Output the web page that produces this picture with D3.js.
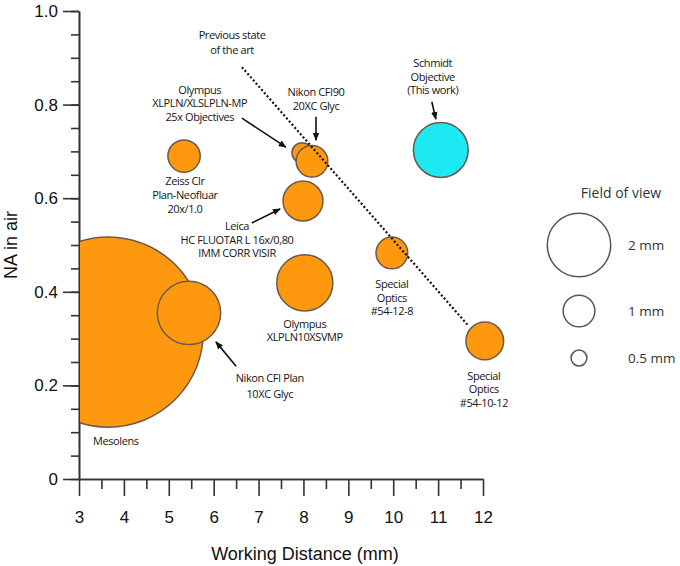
<!DOCTYPE html>
<html>
<head>
<meta charset="utf-8">
<script src="https://cdn.jsdelivr.net/npm/d3@7"></script>
<style>
  body { margin: 0; background: #fff; }
  .axis path, .axis line { stroke: #333; stroke-width: 1.6; }
  .axis text { font-family: "Liberation Sans", Arial, sans-serif; font-size: 17px; fill: #111; }
  .lbl { font-family: "Open Sans", sans-serif; font-size: 11px; fill: #151515; letter-spacing: -0.4px; }
  .leg { font-family: "Open Sans", sans-serif; fill: #333; }
</style>
</head>
<body>
<svg id="chart" width="680" height="566"></svg>
<script>
const svg = d3.select("#chart");

// lenses: working distance (mm), NA in air, field of view (mm)
const names = ["Mesolens", "Nikon CFI Plan 10XC Glyc", "Zeiss Clr Plan-Neofluar 20x/1.0",
  "Olympus XLPLN 25x", "Nikon CFI90 20XC Glyc", "Leica HC FLUOTAR L 16x/0,80",
  "Olympus XLPLN10XSVMP", "Special Optics #54-12-8", "Special Optics #54-10-12", "Schmidt Objective"];
const workDist = [3.65, 5.45, 5.34, 7.97, 8.19, 7.99, 8.03, 9.97, 12.04, 11.06];
const naAir = [0.314, 0.355, 0.690, 0.697, 0.679, 0.594, 0.419, 0.483, 0.295, 0.703];
const fov = [6.0, 2.0, 1.02, 0.64, 1.0, 1.26, 1.77, 1.0, 1.19, 1.73];
const isThisWork = [false, false, false, false, false, false, false, false, false, true];

const xTicks = [3, 4, 5, 6, 7, 8, 9, 10, 11, 12];
const yTicks = [0, 0.2, 0.4, 0.6, 0.8, 1.0];
const legendFov = [2, 1, 0.5];

// "previous state of the art" trend line
const trendWd = [6.63, 11.66];
const trendNa = [0.880, 0.329];

const x = d3.scaleLinear().domain([3, 12]).range([79, 483]);
const y = d3.scaleLinear().domain([0, 1]).range([479, 11]);
const r = d3.scaleLinear().domain([0, 2]).range([0, 31.7]);

// axes
svg.append("g").attr("class", "axis")
  .attr("transform", "translate(79,0)")
  .call(d3.axisLeft(y).tickValues(d3.range(0, 1.001, 0.05)).tickSize(8).tickSizeOuter(0).tickFormat(""));
svg.append("g").attr("class", "axis")
  .attr("transform", "translate(79,0)")
  .call(d3.axisLeft(y).tickValues(yTicks).tickSize(16).tickSizeOuter(0).tickPadding(5)
    .tickFormat(d => d === 0 ? "0" : d.toFixed(1)));
svg.append("g").attr("class", "axis")
  .attr("transform", "translate(0,479)")
  .call(d3.axisBottom(x).tickValues(d3.range(3.5, 12, 1)).tickSize(10).tickSizeOuter(0).tickFormat(""));
svg.append("g").attr("class", "axis")
  .attr("transform", "translate(0,479)")
  .call(d3.axisBottom(x).tickValues(xTicks).tickSize(17).tickSizeOuter(0).tickPadding(15));

svg.append("text")
  .attr("x", 305).attr("y", 560)
  .attr("text-anchor", "middle")
  .attr("font-family", "Liberation Sans, Arial, sans-serif")
  .attr("font-size", 18).attr("fill", "#111")
  .text("Working Distance (mm)");
svg.append("text")
  .attr("transform", "translate(17,245) rotate(-90)")
  .attr("text-anchor", "middle")
  .attr("font-family", "Liberation Sans, Arial, sans-serif")
  .attr("font-size", 18).attr("fill", "#111")
  .text("NA in air");

// bubbles
svg.append("clipPath").attr("id", "plot")
  .append("rect").attr("x", 80).attr("y", 0).attr("width", 600).attr("height", 479);

svg.append("g").attr("clip-path", "url(#plot)")
  .selectAll("circle")
  .data(names.map((n, i) => i))
  .enter()
  .append("circle")
  .attr("cx", i => x(workDist[i]))
  .attr("cy", i => y(naAir[i]))
  .attr("r", i => r(fov[i]))
  .attr("fill", i => isThisWork[i] ? "#1de9f2" : "#fd980f")
  .attr("stroke", "#6b5a4c")
  .attr("stroke-width", 1.5);

svg.append("line")
  .attr("x1", x(trendWd[0])).attr("y1", y(trendNa[0]))
  .attr("x2", x(trendWd[1])).attr("y2", y(trendNa[1]))
  .attr("stroke", "#111").attr("stroke-width", 2.2)
  .attr("stroke-dasharray", "2,2.2");

// annotations: [lines, wd, na of first baseline, line height]
const labels = [
  [["Previous state", "of the art"], 6.41, 0.940, 15],
  [["Olympus", "XLPLN/XLSLPLN-MP", "25x Objectives"], 5.69, 0.823, 13.5],
  [["Nikon CFI90", "20XC Glyc"], 8.28, 0.818, 14],
  [["Schmidt", "Objective", "(This work)"], 10.88, 0.880, 13.5],
  [["Zeiss Clr", "Plan-Neofluar", "20x/1.0"], 5.36, 0.628, 13.8],
  [["Leica", "HC FLUOTAR L 16x/0,80", "IMM CORR VISIR"], 6.52, 0.532, 13.5],
  [["Olympus", "XLPLN10XSVMP"], 8.03, 0.323, 13.5],
  [["Special", "Optics", "#54-12-8"], 9.97, 0.408, 13.5],
  [["Special", "Optics", "#54-10-12"], 12.02, 0.212, 13.5],
  [["Nikon CFI Plan", "10XC Glyc"], 7.25, 0.207, 16],
  [["Mesolens"], 3.82, 0.073, 13.5]
];
labels.forEach(([lines, wd, na, lh], k) => {
  const t = svg.append("text").attr("class", "lbl")
    .attr("text-anchor", "middle")
    .attr("font-size", k === 9 ? 12 : null);
  lines.forEach((s, j) => {
    t.append("tspan").attr("x", x(wd)).attr("y", y(na) + j * lh).text(s);
  });
});

// arrows: [wd0, na0, wd1, na1]
const arrows = [
  [6.63, 0.771, 7.61, 0.709],
  [8.28, 0.774, 8.28, 0.724],
  [6.85, 0.547, 7.48, 0.577],
  [6.50, 0.241, 6.05, 0.293],
  [10.86, 0.806, 10.95, 0.769]
];
svg.append("defs").append("marker")
  .attr("id", "head")
  .attr("viewBox", "0 0 10 10")
  .attr("refX", 9).attr("refY", 5)
  .attr("markerWidth", 5).attr("markerHeight", 5)
  .attr("markerUnits", "strokeWidth")
  .attr("orient", "auto")
  .append("path").attr("d", "M0,1 L10,5 L0,9 Z").attr("fill", "#111");
svg.selectAll(".arrow")
  .data(arrows)
  .enter()
  .append("line")
  .attr("class", "arrow")
  .attr("x1", d => x(d[0])).attr("y1", d => y(d[1]))
  .attr("x2", d => x(d[2])).attr("y2", d => y(d[3]))
  .attr("stroke", "#111").attr("stroke-width", 1.6)
  .attr("marker-end", "url(#head)");

// legend
const leg = svg.append("g");
leg.append("text").attr("class", "leg")
  .attr("x", 621).attr("y", 198).attr("text-anchor", "middle")
  .attr("font-size", 14).text("Field of view");
const legY = [245, 311, 358];
leg.selectAll("circle")
  .data(legendFov)
  .enter()
  .append("circle")
  .attr("cx", 579).attr("cy", (d, i) => legY[i])
  .attr("r", d => r(d))
  .attr("fill", "#fff").attr("stroke", "#555").attr("stroke-width", 1.5);
leg.selectAll(".legtxt")
  .data(legendFov)
  .enter()
  .append("text").attr("class", "leg")
  .attr("x", 628).attr("y", (d, i) => legY[i] + 5)
  .attr("font-size", 13.5)
  .text(d => d + " mm");
</script>
</body>
</html>
